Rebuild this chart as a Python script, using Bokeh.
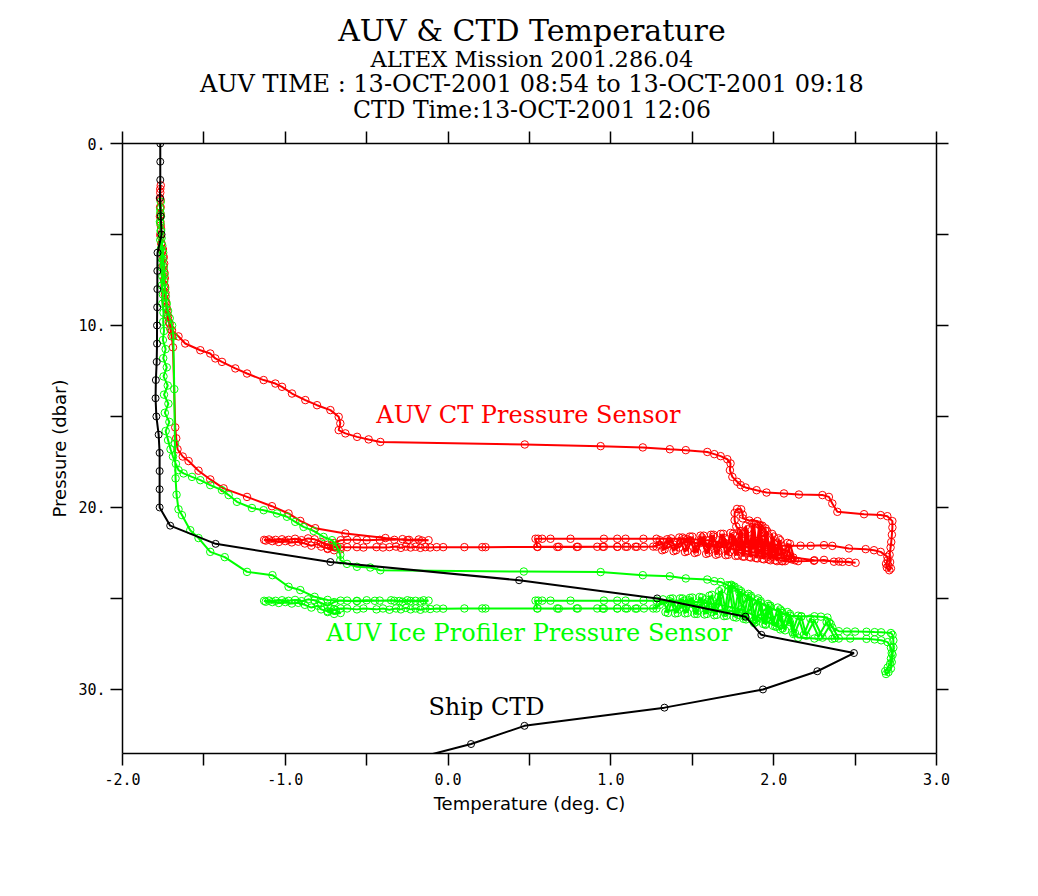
from bokeh.plotting import figure
from bokeh.layouts import column
from bokeh.core.properties import value
from bokeh.models import Range1d, LinearAxis, FixedTicker, Label, PrintfTickFormatter, CustomJSTickFormatter
from bokeh.embed import file_html
from bokeh.resources import INLINE

# ship CTD cast, one sample per dbar
ctd_pres = list(range(0, 35))
ctd_temp = [-1.768, -1.768, -1.768, -1.770, -1.765, -1.760, -1.785, -1.786, -1.786, -1.787,
            -1.788, -1.788, -1.790, -1.795, -1.797, -1.792, -1.778, -1.772, -1.772, -1.772,
            -1.772, -1.707, -1.428, -0.723, 0.436, 1.284, 1.827, 1.924, 2.493, 2.268,
            1.934, 1.329, 0.469, 0.141, -0.290]

# AUV temperature against the CT pressure sensor, (temp, pres) in track order
red_track = [
    (-1.765, 2.3), (-1.768, 2.7), (-1.766, 3.1), (-1.769, 3.5), (-1.765, 3.9),
    (-1.767, 4.3), (-1.763, 4.7), (-1.765, 5.1), (-1.760, 5.5), (-1.752, 5.8),
    (-1.748, 6.2), (-1.744, 6.6), (-1.746, 7.0), (-1.740, 7.4), (-1.742, 7.8),
    (-1.736, 8.2), (-1.738, 8.6), (-1.730, 9.0), (-1.725, 9.4), (-1.716, 9.8),
    (-1.706, 10.2), (-1.698, 10.6), (-1.690, 11.2), (-1.676, 15.6), (-1.670, 16.2),
    (-1.662, 16.8), (-1.630, 17.2), (-1.594, 17.45), (-1.533, 17.98), (-1.461, 18.46),
    (-1.379, 18.95), (-1.235, 19.42), (-1.082, 19.93), (-0.980, 20.33), (-0.908, 20.74),
    (-0.816, 21.14), (-0.631, 21.43), (-0.385, 21.68), (-0.25, 21.80), (-0.16, 21.82),
    (-0.12, 21.80),
    (-0.18, 21.76), (-0.24, 21.78), (-0.28, 21.74), (-0.33, 21.78), (-0.42, 21.78),
    (-0.50, 21.80), (-0.56, 21.78), (-0.62, 21.78), (-0.66, 21.80),
    (-0.70, 21.95), (-0.74, 22.05), (-0.78, 21.90), (-0.82, 21.75), (-0.86, 21.70),
    (-0.90, 21.80), (-0.94, 21.72), (-0.98, 21.78), (-1.02, 21.75), (-1.06, 21.78),
    (-1.10, 21.76), (-1.13, 21.78), (-1.12, 21.82), (-1.08, 21.85), (-1.04, 21.90),
    (-1.00, 21.85), (-0.96, 21.92), (-0.92, 21.88), (-0.88, 21.98), (-0.84, 22.10),
    (-0.80, 22.00), (-0.78, 22.15), (-0.74, 22.25), (-0.72, 22.10), (-0.69, 22.20),
    (-0.66, 22.30), (-0.70, 22.35), (-0.74, 22.28), (-0.70, 22.18), (-0.66, 22.18),
    (-0.62, 22.18), (-0.56, 22.18), (-0.52, 22.20), (-0.44, 22.18), (-0.40, 22.20),
    (-0.36, 22.18), (-0.32, 22.15), (-0.29, 22.22), (-0.26, 22.15), (-0.23, 22.20),
    (-0.20, 22.16), (-0.17, 22.22), (-0.14, 22.18), (-0.11, 22.20), (-0.07, 22.18),
    (-0.03, 22.18), (0.10, 22.18), (0.21, 22.18), (0.23, 22.18), (0.55, 22.17),
    (0.67, 22.17), (0.79, 22.17), (0.95, 22.16), (1.04, 22.16), (1.10, 22.16),
    (1.16, 22.16), (1.26, 22.15),
    (1.30, 22.05), (1.36, 21.85), (1.42, 22.20), (1.47, 21.75), (1.52, 22.30),
    (1.56, 21.65), (1.60, 22.35), (1.63, 21.60), (1.66, 22.40), (1.70, 21.70),
    (1.73, 22.45), (1.76, 21.55), (1.79, 22.30), (1.81, 21.45), (1.80, 21.30),
    (1.77, 21.05), (1.76, 20.70), (1.76, 20.30), (1.775, 20.08), (1.80, 20.10),
    (1.81, 20.40), (1.81, 20.60), (1.85, 20.72), (1.90, 20.75), (1.93, 21.00),
    (1.95, 21.30), (1.94, 21.55), (1.86, 21.75), (1.92, 22.00), (1.84, 22.20),
    (1.97, 22.10), (1.88, 22.45), (2.02, 22.30), (1.93, 22.60), (2.06, 22.55),
    (1.98, 22.75), (2.10, 22.80), (2.05, 22.95), (2.15, 22.95),
    (2.247, 22.93), (2.309, 22.88), (2.370, 22.98), (2.422, 22.99), (2.462, 22.99),
    (2.503, 23.04), (2.40, 22.97), (2.25, 22.90), (2.12, 22.75), (2.00, 22.45),
    (1.90, 22.30), (1.80, 22.10), (1.70, 21.95), (1.60, 21.80), (1.45, 21.72),
    (1.28, 21.72), (1.20, 21.72), (1.09, 21.72), (1.039, 21.72), (0.957, 21.72),
    (0.752, 21.72), (0.629, 21.72), (0.578, 21.72), (0.553, 21.72), (0.537, 21.72),
    (0.547, 22.16), (0.680, 22.16), (0.797, 22.16), (0.916, 22.16), (0.957, 22.16),
    (1.039, 22.16), (1.090, 22.16), (1.151, 22.16), (1.203, 22.16), (1.28, 22.15),
    (1.30, 21.80), (1.33, 22.30), (1.37, 21.70), (1.40, 22.35), (1.44, 21.65),
    (1.47, 22.40), (1.50, 21.60), (1.53, 22.45), (1.57, 21.55), (1.60, 22.50),
    (1.63, 21.50), (1.66, 22.55), (1.69, 21.45), (1.72, 22.60), (1.75, 21.45),
    (1.78, 22.65), (1.80, 21.40), (1.82, 22.70), (1.84, 21.20), (1.86, 22.75),
    (1.88, 20.90), (1.90, 22.80), (1.92, 21.00), (1.94, 22.85), (1.96, 21.30),
    (1.98, 22.90), (2.00, 21.60), (2.02, 22.95), (2.04, 21.80), (2.07, 22.95),
    (2.10, 22.00), (2.13, 22.90), (2.09, 22.40), (1.99, 22.15), (1.89, 21.95),
    (1.79, 22.05), (1.69, 21.90), (1.59, 22.15), (1.49, 21.85), (1.39, 22.05),
    (1.315, 22.35), (1.345, 21.75), (1.385, 22.40), (1.42, 21.65), (1.455, 22.45),
    (1.485, 21.60), (1.515, 22.50), (1.55, 21.55), (1.585, 22.55), (1.615, 21.50),
    (1.645, 22.60), (1.675, 21.45), (1.705, 22.62), (1.735, 21.40), (1.765, 22.66),
    (1.79, 21.30), (1.81, 22.70), (1.83, 21.00), (1.85, 22.72), (1.87, 20.85),
    (1.89, 22.78), (1.91, 20.95), (1.93, 22.82), (1.95, 21.15), (1.97, 22.86),
    (1.99, 21.45), (2.01, 22.90), (2.03, 21.70), (2.055, 22.95), (2.085, 21.95),
    (2.11, 22.85),
    (1.55, 21.95), (1.65, 22.20), (1.75, 21.90),
    (1.85, 22.05), (1.95, 21.95), (2.05, 22.10), (2.165, 22.10), (2.227, 22.11),
    (2.309, 22.07), (2.360, 22.11), (2.462, 22.25), (2.565, 22.29), (2.616, 22.35),
    (2.657, 22.44), (2.698, 22.71),
    (2.700, 22.90), (2.690, 23.10), (2.695, 23.30), (2.710, 23.45), (2.720, 23.35),
    (2.705, 23.20), (2.715, 23.00), (2.712, 22.60), (2.718, 22.20), (2.722, 21.90),
    (2.726, 21.50), (2.729, 21.10), (2.729, 20.75), (2.698, 20.48), (2.657, 20.42),
    (2.555, 20.37), (2.391, 20.24), (2.360, 19.78), (2.339, 19.42), (2.299, 19.32),
    (2.155, 19.29), (2.063, 19.23), (1.956, 19.18), (1.895, 19.05), (1.827, 18.90),
    (1.797, 18.77), (1.776, 18.59), (1.746, 18.32), (1.731, 17.95), (1.735, 17.58),
    (1.715, 17.35), (1.674, 17.18), (1.635, 17.07), (1.592, 16.95), (1.460, 16.85),
    (1.362, 16.80), (1.196, 16.70), (0.937, 16.63), (0.471, 16.54), (-0.416, 16.40),
    (-0.488, 16.26), (-0.559, 16.12), (-0.631, 15.93), (-0.672, 15.75), (-0.662, 15.38),
    (-0.672, 15.02), (-0.723, 14.65), (-0.805, 14.38), (-0.877, 14.10), (-0.959, 13.74),
    (-1.020, 13.37), (-1.061, 13.19), (-1.133, 13.00), (-1.235, 12.64), (-1.307, 12.36),
    (-1.389, 12.00), (-1.430, 11.81), (-1.461, 11.54), (-1.522, 11.36), (-1.615, 10.99),
    (-1.656, 10.60), (-1.696, 10.26), (-1.710, 9.90), (-1.720, 9.50), (-1.728, 9.10),
    (-1.733, 8.70), (-1.740, 8.30), (-1.738, 7.90), (-1.745, 7.50), (-1.742, 7.10),
    (-1.750, 6.70), (-1.748, 6.30), (-1.755, 5.90), (-1.762, 5.50), (-1.768, 5.00),
    (-1.765, 4.50), (-1.770, 4.00), (-1.766, 3.50), (-1.770, 3.00), (-1.768, 2.50),
]

# AUV temperature against the ice profiler pressure sensor
green_track = [
    (-1.765, 3.2), (-1.768, 3.6), (-1.764, 4.0), (-1.767, 4.4), (-1.763, 4.8),
    (-1.760, 5.2), (-1.756, 5.6), (-1.750, 6.0), (-1.752, 6.4), (-1.746, 6.8),
    (-1.742, 7.2), (-1.744, 7.6), (-1.738, 8.0), (-1.734, 8.4), (-1.728, 8.8),
    (-1.720, 9.2), (-1.710, 9.6), (-1.695, 10.0), (-1.688, 10.6), (-1.682, 13.5),
    (-1.678, 16.5), (-1.674, 18.4), (-1.668, 19.3), (-1.656, 20.10), (-1.635, 20.42),
    (-1.584, 21.25), (-1.533, 21.68), (-1.461, 22.44), (-1.372, 22.73), (-1.235, 23.54),
    (-1.079, 23.72), (-0.980, 24.36), (-0.908, 24.54), (-0.820, 24.91), (-0.740, 25.08),
    (-0.62, 25.12), (-0.56, 25.13), (-0.50, 25.10), (-0.42, 25.12), (-0.35, 25.10),
    (-0.30, 25.14), (-0.25, 25.10), (-0.20, 25.13), (-0.15, 25.10), (-0.12, 25.12),
    (-0.17, 25.16), (-0.23, 25.14), (-0.28, 25.18), (-0.33, 25.13), (-0.45, 25.13),
    (-0.56, 25.15), (-0.66, 25.12),
    (-0.70, 25.20), (-0.74, 25.40), (-0.78, 25.25), (-0.82, 25.10), (-0.86, 25.05),
    (-0.90, 25.15), (-0.94, 25.08), (-0.98, 25.13), (-1.02, 25.10), (-1.06, 25.13),
    (-1.10, 25.12), (-1.13, 25.13), (-1.12, 25.18), (-1.08, 25.20), (-1.04, 25.25),
    (-1.00, 25.20), (-0.96, 25.28), (-0.92, 25.24), (-0.88, 25.35), (-0.84, 25.50),
    (-0.80, 25.40), (-0.78, 25.60), (-0.74, 25.70), (-0.72, 25.55), (-0.69, 25.65),
    (-0.66, 25.80), (-0.70, 25.85), (-0.74, 25.75), (-0.70, 25.60), (-0.66, 25.55),
    (-0.62, 25.55), (-0.56, 25.60), (-0.52, 25.55), (-0.44, 25.60), (-0.40, 25.55),
    (-0.36, 25.62), (-0.32, 25.55), (-0.29, 25.60), (-0.26, 25.52), (-0.23, 25.60),
    (-0.20, 25.55), (-0.17, 25.62), (-0.14, 25.55), (-0.11, 25.58), (-0.07, 25.55),
    (-0.03, 25.56), (0.10, 25.55), (0.21, 25.55), (0.23, 25.55), (0.55, 25.55),
    (0.67, 25.55), (0.79, 25.55), (0.95, 25.55), (1.04, 25.55), (1.10, 25.55),
    (1.16, 25.55), (1.26, 25.55),
    (1.30, 25.35), (1.36, 25.15), (1.42, 25.60), (1.48, 25.10), (1.53, 25.70),
    (1.58, 25.05), (1.62, 25.75), (1.66, 24.90), (1.70, 25.80), (1.72, 24.60),
    (1.74, 24.25), (1.76, 24.35), (1.79, 24.70), (1.78, 25.90), (1.84, 24.85),
    (1.82, 26.00), (1.90, 25.10), (1.88, 26.20), (1.97, 25.40), (1.95, 26.40),
    (2.05, 25.70), (2.02, 26.55), (1.92, 26.10), (1.80, 25.60), (1.65, 25.30),
    (1.45, 25.12),
    (1.28, 25.12), (1.20, 25.12), (1.09, 25.12), (1.039, 25.12), (0.957, 25.12),
    (0.752, 25.12), (0.629, 25.12), (0.578, 25.12), (0.553, 25.12), (0.537, 25.12),
    (0.547, 25.55), (0.680, 25.56), (0.797, 25.55), (0.916, 25.55), (0.957, 25.56),
    (1.039, 25.55), (1.090, 25.55), (1.151, 25.56), (1.203, 25.55), (1.28, 25.55),
    (1.32, 25.05), (1.35, 25.80), (1.38, 25.00), (1.41, 25.80), (1.44, 25.00),
    (1.47, 25.80), (1.50, 24.95), (1.53, 25.85), (1.56, 24.95), (1.59, 25.85),
    (1.62, 24.80), (1.65, 25.90), (1.68, 24.50), (1.71, 25.95), (1.74, 24.30),
    (1.77, 26.05), (1.80, 24.60), (1.83, 26.15), (1.86, 24.85), (1.89, 26.30),
    (1.92, 25.15), (1.95, 26.45), (1.98, 25.40), (2.01, 26.55), (2.04, 25.60),
    (2.07, 26.75), (2.10, 25.85), (2.13, 26.90), (2.17, 26.00), (2.20, 27.05),
    (2.25, 26.20), (2.30, 27.15), (2.35, 26.40), (2.40, 27.20),
    (2.375, 27.18), (2.325, 26.30), (2.275, 27.10), (2.225, 26.10), (2.185, 27.00),
    (2.15, 25.95), (2.115, 26.85), (2.085, 25.75), (2.055, 26.65), (2.025, 25.50),
    (1.995, 26.50), (1.965, 25.30), (1.935, 26.40), (1.905, 25.00), (1.875, 26.25),
    (1.845, 24.75), (1.815, 26.12), (1.785, 24.50), (1.755, 26.02), (1.725, 24.30),
    (1.695, 25.97), (1.665, 24.60), (1.635, 25.92), (1.605, 24.85), (1.575, 25.88),
    (1.545, 24.92), (1.515, 25.85), (1.485, 24.97), (1.455, 25.82), (1.425, 25.00),
    (1.395, 25.82), (1.365, 25.02), (1.335, 25.75),
    (1.50, 25.30), (1.60, 25.60), (1.75, 25.70),
    (1.88, 26.35), (1.96, 25.95), (2.04, 26.70), (2.10, 26.30), (2.12, 26.95),
    (2.15, 27.15), (2.25, 27.20), (2.36, 27.22), (2.47, 27.20), (2.57, 27.22),
    (2.62, 27.25), (2.66, 27.30), (2.70, 27.40),
    (2.720, 27.70), (2.725, 28.00), (2.720, 28.30), (2.715, 28.60), (2.700, 28.80),
    (2.685, 29.00), (2.690, 29.15), (2.705, 29.05), (2.720, 28.85), (2.725, 28.50),
    (2.730, 28.10), (2.735, 27.70), (2.735, 27.30), (2.730, 27.00), (2.720, 26.90),
    (2.660, 26.86), (2.620, 26.85), (2.570, 26.83), (2.500, 26.82), (2.450, 26.82),
    (2.400, 26.80), (2.360, 26.60), (2.340, 26.30), (2.330, 26.05), (2.290, 26.00),
    (2.250, 25.98), (2.170, 25.98), (2.100, 25.95), (2.050, 25.80), (1.980, 25.50),
    (1.920, 25.25), (1.860, 24.95), (1.800, 24.70), (1.755, 24.40), (1.715, 24.27),
    (1.674, 24.09), (1.635, 24.05), (1.592, 23.96), (1.460, 23.90), (1.362, 23.78),
    (1.196, 23.72), (0.937, 23.55), (0.465, 23.52), (-0.416, 23.45), (-0.478, 23.30),
    (-0.560, 23.26), (-0.621, 23.10), (-0.662, 22.90), (-0.662, 22.60), (-0.682, 22.16),
    (-0.713, 21.80), (-0.765, 21.62), (-0.826, 21.29), (-0.888, 21.07), (-0.939, 20.79),
    (-0.990, 20.51), (-1.051, 20.33), (-1.133, 20.15), (-1.205, 20.03), (-1.297, 19.69),
    (-1.348, 19.32), (-1.389, 19.05), (-1.461, 18.77), (-1.522, 18.50), (-1.573, 18.32),
    (-1.625, 18.13), (-1.656, 17.95),
    (-1.672, 17.60), (-1.690, 17.20), (-1.705, 16.80), (-1.720, 16.30), (-1.735, 15.80),
    (-1.712, 15.30), (-1.740, 14.80), (-1.718, 14.30), (-1.745, 13.80), (-1.722, 13.30),
    (-1.748, 12.80), (-1.728, 12.30), (-1.750, 11.80), (-1.735, 11.30), (-1.752, 10.80),
    (-1.745, 10.30), (-1.750, 9.80), (-1.748, 9.30), (-1.755, 8.80), (-1.752, 8.30),
    (-1.758, 7.80), (-1.755, 7.30), (-1.760, 6.80), (-1.762, 6.30), (-1.765, 5.80),
    (-1.768, 5.30), (-1.766, 4.80), (-1.770, 4.30), (-1.768, 3.80),
]

red_temp = [t for t, _ in red_track]
red_pres = [q for _, q in red_track]
green_temp = [t for t, _ in green_track]
green_pres = [q for _, q in green_track]

x_major = [-2.0, -1.0, 0.0, 1.0, 2.0, 3.0]
x_minor = [-1.5, -0.5, 0.5, 1.5, 2.5]
y_major = [0, 10, 20, 30]
y_minor = [5, 15, 25]

title_lines = [
    "AUV & CTD Temperature",
    "ALTEX Mission 2001.286.04",
    "AUV TIME : 13-OCT-2001 08:54 to 13-OCT-2001 09:18",
    "CTD Time:13-OCT-2001 12:06",
]
title_sizes = ["30px", "22.5px", "24px", "23.5px"]
title_y = [30.4, 58.4, 83.4, 109.2]   # pixel rows in the header strip
TITLE_X = 514

WIDTH = 1022
HEAD_H = 128

# header strip: a plain pixel canvas holding the four title lines
head = figure(width=WIDTH, height=HEAD_H, x_range=Range1d(0, WIDTH), y_range=Range1d(HEAD_H, 0),
              x_axis_type=None, y_axis_type=None, output_backend="svg",
              toolbar_location=None, tools="", min_border=0, outline_line_color=None,
              background_fill_color="white", border_fill_color="white")
for text, size, ty in zip(title_lines, title_sizes, title_y):
    head.text(x=[TITLE_X], y=[ty], text=[text], text_align="center", text_baseline="alphabetic",
              text_font=value("DejaVu Serif"), text_font_size=value(size), text_color="black")

p = figure(frame_width=814, frame_height=610,
           x_range=Range1d(-2.0, 3.0), y_range=Range1d(33.52, 0.0),
           output_backend="svg", toolbar_location=None, tools="",
           min_border_left=122, min_border_top=143 - HEAD_H, min_border_right=86, min_border_bottom=118,
           background_fill_color="white", border_fill_color="white", outline_line_color=None)
p.grid.grid_line_color = None


def style_axis(ax, major, minor, show_labels, fmt):
    ax.ticker = FixedTicker(ticks=major, minor_ticks=minor)
    ax.axis_line_width = 1.5
    ax.axis_line_color = "black"
    ax.major_tick_line_width = 1.5
    ax.minor_tick_line_width = 1.5
    ax.major_tick_line_color = "black"
    ax.minor_tick_line_color = "black"
    ax.major_tick_out = 12
    ax.major_tick_in = 0
    ax.minor_tick_out = 12
    ax.minor_tick_in = 0
    ax.major_label_text_font = "DejaVu Sans Mono"
    ax.major_label_text_color = "black"
    ax.axis_label_text_font = "DejaVu Sans"
    ax.axis_label_text_font_size = "18px"
    ax.axis_label_text_font_style = "normal"
    ax.axis_label_text_color = "black"
    if show_labels:
        ax.formatter = PrintfTickFormatter(format=fmt)
        ax.major_label_text_font_size = "15px"
    else:
        ax.formatter = CustomJSTickFormatter(code="return ''")
        ax.major_label_text_font_size = "0px"
        ax.major_label_standoff = 0


style_axis(p.xaxis[0], x_major, x_minor, True, "%.1f")
p.xaxis.axis_label = "Temperature (deg. C)"
p.xaxis.major_label_standoff = 7
p.xaxis.axis_label_standoff = 5

style_axis(p.yaxis[0], y_major, y_minor, True, "%d.")
p.yaxis.axis_label = "Pressure (dbar)"
p.yaxis.major_label_standoff = 5
p.yaxis.axis_label_standoff = 5

top_axis = LinearAxis()
style_axis(top_axis, x_major, x_minor, False, "")
p.add_layout(top_axis, "above")
right_axis = LinearAxis()
style_axis(right_axis, y_major, y_minor, False, "")
p.add_layout(right_axis, "right")

# tracks: red under green under the ship cast
p.line(red_temp, red_pres, line_color="#ff0000", line_width=2)
p.scatter(red_temp, red_pres, marker="circle", size=7.5, fill_color=None,
          line_color="#ff0000", line_width=1)
p.line(green_temp, green_pres, line_color="#00ff00", line_width=2)
p.scatter(green_temp, green_pres, marker="circle", size=7.5, fill_color=None,
          line_color="#00ff00", line_width=1)
p.line(ctd_temp, ctd_pres, line_color="black", line_width=2)
p.scatter(ctd_temp, ctd_pres, marker="circle", size=7, fill_color=None,
          line_color="black", line_width=1)

p.add_layout(Label(x=-0.441, y=14.93, text="AUV CT Pressure Sensor", text_color="#ff0000",
                   text_font="DejaVu Serif", text_font_size="24px", text_baseline="alphabetic"))
p.add_layout(Label(x=-0.748, y=26.90, text="AUV Ice Profiler Pressure Sensor", text_color="#00ff00",
                   text_font="DejaVu Serif", text_font_size="24px", text_baseline="alphabetic"))
p.add_layout(Label(x=-0.121, y=30.98, text="Ship CTD", text_color="black",
                   text_font="DejaVu Serif", text_font_size="24px", text_baseline="alphabetic"))

open("out.html", "w").write(file_html(column(head, p), INLINE))
